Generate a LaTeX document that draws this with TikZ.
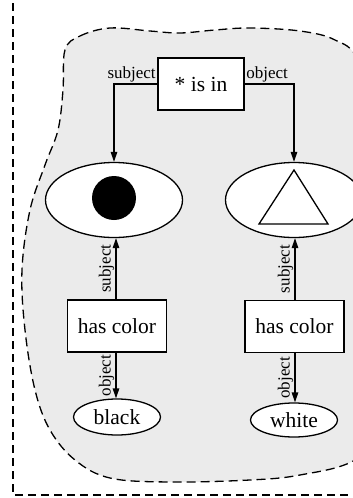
\documentclass[tikz,border=0pt]{standalone}
\usepackage{fontspec}
\setmainfont{Liberation Serif}
\usetikzlibrary{shapes.geometric,arrows.meta}
\begin{document}
\begin{tikzpicture}[x=1pt,y=-1pt,
  big/.style={font=\fontsize{21.5}{24}\selectfont},
  lab/.style={font=\fontsize{17}{19}\selectfont, inner sep=1pt},
  boxn/.style={draw, line width=1.3pt, fill=white, big, minimum width=#1, minimum height=52pt, inner sep=0pt},
  ell/.style={draw, ellipse, line width=1.3pt, fill=white, inner sep=0pt},
  conn/.style={line width=1.3pt, -{Triangle[length=10pt,width=6.5pt]}},
  dsh/.style={dashed, dash pattern=on 8pt off 5pt, line width=1.3pt}]
\useasboundingbox (0,0) rectangle (353,498);
\clip (0,0) rectangle (353,498);
% blob
\filldraw[fill=black!8, dsh, dash pattern=on 9pt off 5pt] plot[smooth cycle, tension=0.6] coordinates {
(65,50) (80,36) (110,28) (150,31) (180,33) (215,30) (250,28) (300,31) (335,40) (360,62)
(400,150) (410,300) (395,420) (355,460) (300,475) (250,480) (170,482) (110,478) (75,460)
(50,430) (35,390) (25,330) (22,270) (30,210) (45,165) (58,130) (63,90)};
% outer
\draw[dsh] (13,-10) -- (13,495) -- (380,495);
% nodes
\node[boxn=86pt] (isin) at (201,84) {* is in};
\node[ell, minimum width=137pt, minimum height=75pt] (e1) at (114,200) {};
\node[ell, minimum width=137pt, minimum height=75pt] (e2) at (294,200) {};
\node[circle, fill=black, minimum size=44pt, inner sep=0pt] (dot) at (114,198) {};
\draw[line width=1.3pt, fill=white] (294,170) coordinate (ta) -- (259,224) coordinate (tb) -- (328,224) coordinate (tc) -- cycle;
\node[boxn=99pt] (hc1) at (117,326) {has color};
\node[boxn=99pt] (hc2) at (294.5,326.5) {has color};
\node[ell, big, minimum width=87pt, minimum height=36pt] (blk) at (117,417) {black};
\node[ell, big, minimum width=87pt, minimum height=34pt] (wht) at (294,420) {white};
% connectors
\draw[conn] (isin.west) -| (e1.north) node[pos=0, anchor=south east, lab] {subject};
\draw[conn] (isin.east) -| (e2.north) node[pos=0, anchor=south west, lab] {object};
\draw[conn] (hc1.north -| 116,0) coordinate (a1) -- (a1 |- e1.south) node[midway, rotate=90, anchor=south, lab] {subject};
\draw[conn] (hc2.north -| 295,0) coordinate (a2) -- (a2 |- e2.south) node[midway, rotate=90, anchor=south, lab] {subject};
\draw[conn] (hc1.south -| 116,0) coordinate (b1) -- (b1 |- blk.north) node[midway, rotate=90, anchor=south, lab] {object};
\draw[conn] (hc2.south -| 295,0) coordinate (b2) -- (b2 |- wht.north) node[midway, rotate=90, anchor=south, lab] {object};
\end{tikzpicture}
\end{document}
